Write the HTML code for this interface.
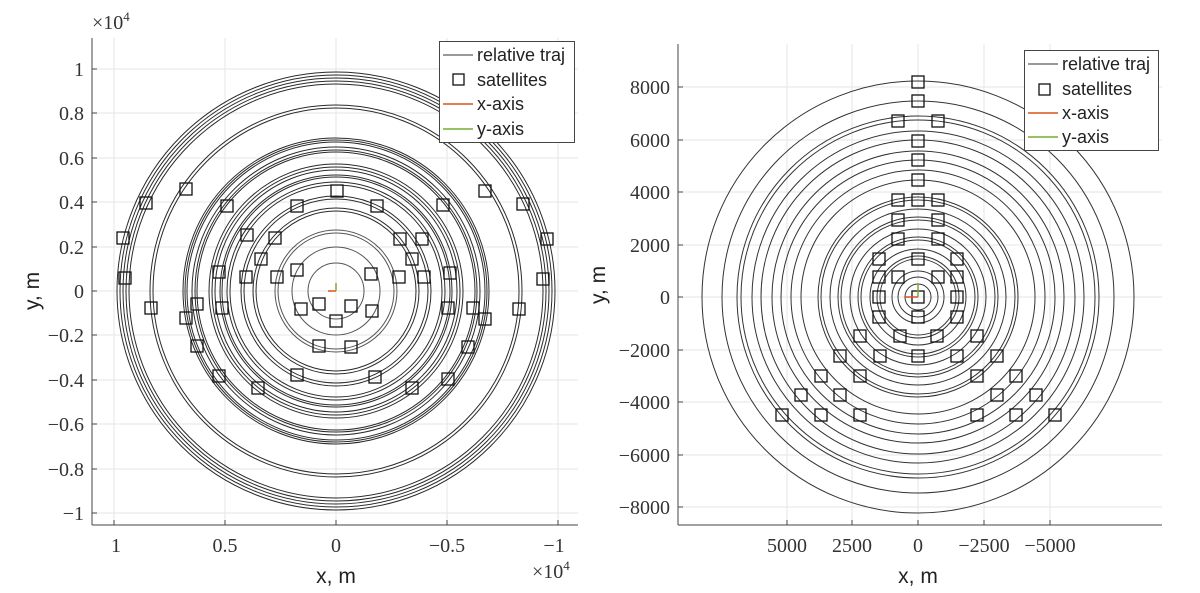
<!DOCTYPE html>
<html><head><meta charset="utf-8"><style>
body{margin:0;background:#fff}
svg{display:block}
.t{font-family:"Liberation Serif",serif;font-size:20px;fill:#333}
.s{font-family:"Liberation Sans",sans-serif;fill:#222}
</style></head><body>
<svg width="1200" height="593" viewBox="0 0 1200 593" xmlns="http://www.w3.org/2000/svg">
<rect width="1200" height="593" fill="#fff"/>
<!-- LEFT PLOT -->
<g stroke="#e6e6e6" stroke-width="1">
<line x1="92" y1="69" x2="578" y2="69"/><line x1="92" y1="113" x2="578" y2="113"/><line x1="92" y1="158" x2="578" y2="158"/><line x1="92" y1="202" x2="578" y2="202"/><line x1="92" y1="247" x2="578" y2="247"/><line x1="92" y1="291" x2="578" y2="291"/><line x1="92" y1="335" x2="578" y2="335"/><line x1="92" y1="380" x2="578" y2="380"/><line x1="92" y1="424" x2="578" y2="424"/><line x1="92" y1="469" x2="578" y2="469"/><line x1="92" y1="513" x2="578" y2="513"/>
<line x1="114" y1="38" x2="114" y2="525"/><line x1="225" y1="38" x2="225" y2="525"/><line x1="336" y1="38" x2="336" y2="525"/><line x1="447" y1="38" x2="447" y2="525"/><line x1="558" y1="38" x2="558" y2="525"/>
</g>
<g fill="none" stroke="#2a2a2a" stroke-width="1">
<circle cx="336" cy="291" r="219"/><circle cx="336" cy="291" r="216"/><circle cx="336" cy="291" r="213"/>
<circle cx="336" cy="291" r="210"/><circle cx="336" cy="291" r="207"/>
<circle cx="336" cy="291" r="186"/><circle cx="336" cy="291" r="183"/>
<circle cx="336" cy="291" r="153"/><circle cx="336" cy="291" r="151"/><circle cx="336" cy="291" r="149"/>
<circle cx="336" cy="291" r="144"/><circle cx="336" cy="291" r="141"/><circle cx="336" cy="291" r="139"/>
<circle cx="336" cy="291" r="127"/><circle cx="336" cy="291" r="124"/><circle cx="336" cy="291" r="121"/>
<circle cx="336" cy="291" r="116"/><circle cx="336" cy="291" r="114"/>
<circle cx="336" cy="291" r="109"/><circle cx="336" cy="291" r="106"/>
<circle cx="336" cy="291" r="95"/><circle cx="336" cy="291" r="92"/>
<circle cx="336" cy="291" r="83"/><circle cx="336" cy="291" r="80"/>
<circle cx="336" cy="291" r="61" stroke="#555"/><circle cx="336" cy="291" r="58" stroke="#555"/>
<circle cx="336" cy="291" r="44" stroke="#555"/><circle cx="336" cy="291" r="28" stroke="#555"/>
</g>
<g fill="none" stroke="#111" stroke-width="1.3">
<rect x="180" y="183" width="12" height="12"/><rect x="140" y="197" width="12" height="12"/><rect x="221" y="200" width="12" height="12"/><rect x="331" y="185" width="12" height="12"/><rect x="291" y="200" width="12" height="12"/><rect x="371" y="200" width="12" height="12"/><rect x="437" y="199" width="12" height="12"/><rect x="479" y="185" width="12" height="12"/><rect x="517" y="198" width="12" height="12"/><rect x="117" y="232" width="12" height="12"/><rect x="241" y="229" width="12" height="12"/><rect x="269" y="232" width="12" height="12"/><rect x="394" y="233" width="12" height="12"/><rect x="416" y="233" width="12" height="12"/><rect x="541" y="233" width="12" height="12"/><rect x="255" y="253" width="12" height="12"/><rect x="406" y="253" width="12" height="12"/><rect x="119" y="272" width="12" height="12"/><rect x="213" y="266" width="12" height="12"/><rect x="240" y="271" width="12" height="12"/><rect x="271" y="271" width="12" height="12"/><rect x="291" y="264" width="12" height="12"/><rect x="365" y="268" width="12" height="12"/><rect x="393" y="271" width="12" height="12"/><rect x="418" y="271" width="12" height="12"/><rect x="444" y="267" width="12" height="12"/><rect x="537" y="273" width="12" height="12"/><rect x="145" y="302" width="12" height="12"/><rect x="191" y="298" width="12" height="12"/><rect x="180" y="312" width="12" height="12"/><rect x="216" y="302" width="12" height="12"/><rect x="295" y="303" width="12" height="12"/><rect x="313" y="298" width="12" height="12"/><rect x="345" y="300" width="12" height="12"/><rect x="366" y="305" width="12" height="12"/><rect x="330" y="315" width="12" height="12"/><rect x="442" y="302" width="12" height="12"/><rect x="467" y="302" width="12" height="12"/><rect x="479" y="313" width="12" height="12"/><rect x="513" y="303" width="12" height="12"/><rect x="191" y="340" width="12" height="12"/><rect x="313" y="340" width="12" height="12"/><rect x="345" y="341" width="12" height="12"/><rect x="462" y="341" width="12" height="12"/><rect x="213" y="370" width="12" height="12"/><rect x="291" y="369" width="12" height="12"/><rect x="369" y="371" width="12" height="12"/><rect x="442" y="373" width="12" height="12"/><rect x="252" y="382" width="12" height="12"/><rect x="406" y="382" width="12" height="12"/>
</g>
<line x1="328" y1="291" x2="336" y2="291" stroke="#d95319" stroke-width="1.5"/>
<line x1="336" y1="291" x2="336" y2="283" stroke="#77ac30" stroke-width="1.5"/>
<g stroke="#444" stroke-width="1"><line x1="92" y1="38" x2="92" y2="525"/><line x1="92" y1="525" x2="578" y2="525"/>
<line x1="92" y1="69" x2="97" y2="69"/><line x1="92" y1="113" x2="97" y2="113"/><line x1="92" y1="158" x2="97" y2="158"/><line x1="92" y1="202" x2="97" y2="202"/><line x1="92" y1="247" x2="97" y2="247"/><line x1="92" y1="291" x2="97" y2="291"/><line x1="92" y1="335" x2="97" y2="335"/><line x1="92" y1="380" x2="97" y2="380"/><line x1="92" y1="424" x2="97" y2="424"/><line x1="92" y1="469" x2="97" y2="469"/><line x1="92" y1="513" x2="97" y2="513"/>
<line x1="114" y1="525" x2="114" y2="520"/><line x1="225" y1="525" x2="225" y2="520"/><line x1="336" y1="525" x2="336" y2="520"/><line x1="447" y1="525" x2="447" y2="520"/><line x1="558" y1="525" x2="558" y2="520"/></g>
<g class="t" text-anchor="end">
<text x="84" y="76">1</text><text x="84" y="120">0.8</text><text x="84" y="165">0.6</text><text x="84" y="209">0.4</text><text x="84" y="254">0.2</text><text x="84" y="298">0</text><text x="84" y="342">−0.2</text><text x="84" y="387">−0.4</text><text x="84" y="431">−0.6</text><text x="84" y="476">−0.8</text><text x="84" y="520">−1</text>
</g>
<g class="t" text-anchor="middle">
<text x="116" y="552">1</text><text x="225" y="552">0.5</text><text x="336" y="552">0</text><text x="447" y="552">−0.5</text><text x="554" y="552">−1</text>
</g>
<text class="t" x="92" y="29">×10<tspan dy="-8" font-size="13">4</tspan></text>
<text class="t" x="532" y="578">×10<tspan dy="-8" font-size="13">4</tspan></text>
<text class="s" x="336" y="583" font-size="21" text-anchor="middle">x, m</text>
<text class="s" transform="translate(39,291) rotate(-90)" font-size="21" text-anchor="middle">y, m</text>
<g>
<rect x="439.5" y="41.5" width="135" height="101" fill="#fff" stroke="#444"/>
<line x1="443" y1="55" x2="473" y2="55" stroke="#333"/>
<rect x="453" y="74" width="11" height="11" fill="none" stroke="#111" stroke-width="1.3"/>
<line x1="443" y1="104" x2="473" y2="104" stroke="#d95319" stroke-width="1.5"/>
<line x1="443" y1="129" x2="473" y2="129" stroke="#77ac30" stroke-width="1.5"/>
<g class="s" font-size="18"><text x="477" y="61">relative traj</text><text x="477" y="86">satellites</text><text x="477" y="110">x-axis</text><text x="477" y="135">y-axis</text></g>
</g>

<!-- RIGHT PLOT -->
<g stroke="#e6e6e6" stroke-width="1">
<line x1="678" y1="87" x2="1162" y2="87"/><line x1="678" y1="140" x2="1162" y2="140"/><line x1="678" y1="192" x2="1162" y2="192"/><line x1="678" y1="245" x2="1162" y2="245"/><line x1="678" y1="297" x2="1162" y2="297"/><line x1="678" y1="350" x2="1162" y2="350"/><line x1="678" y1="402" x2="1162" y2="402"/><line x1="678" y1="455" x2="1162" y2="455"/><line x1="678" y1="507" x2="1162" y2="507"/>
<line x1="787" y1="44" x2="787" y2="525"/><line x1="852" y1="44" x2="852" y2="525"/><line x1="918" y1="44" x2="918" y2="525"/><line x1="984" y1="44" x2="984" y2="525"/><line x1="1050" y1="44" x2="1050" y2="525"/>
</g>
<g fill="none" stroke="#333" stroke-width="1">
<circle cx="918" cy="297" r="216"/><circle cx="918" cy="297" r="196"/><circle cx="918" cy="297" r="181"/><circle cx="918" cy="297" r="177"/><circle cx="918" cy="297" r="157"/><circle cx="918" cy="297" r="137"/><circle cx="918" cy="297" r="117"/><circle cx="918" cy="297" r="100"/><circle cx="918" cy="297" r="97"/><circle cx="918" cy="297" r="80"/><circle cx="918" cy="297" r="77"/><circle cx="918" cy="297" r="60"/><circle cx="918" cy="297" r="57"/><circle cx="918" cy="297" r="41"/><circle cx="918" cy="297" r="38"/><circle cx="918" cy="297" r="26"/><circle cx="918" cy="297" r="20"/><circle cx="918" cy="297" r="13"/>
<circle cx="918" cy="297" r="166"/><circle cx="918" cy="297" r="146"/><circle cx="918" cy="297" r="127"/><circle cx="918" cy="297" r="88"/><circle cx="918" cy="297" r="68"/><circle cx="918" cy="297" r="48"/>
</g>
<g fill="none" stroke="#111" stroke-width="1.3" transform="translate(-2,0)">
<rect x="914" y="76" width="12" height="12"/><rect x="914" y="95" width="12" height="12"/>
<rect x="894" y="115" width="12" height="12"/><rect x="934" y="115" width="12" height="12"/>
<rect x="914" y="135" width="12" height="12"/><rect x="914" y="154" width="12" height="12"/><rect x="914" y="174" width="12" height="12"/>
<rect x="894" y="194" width="12" height="12"/><rect x="914" y="194" width="12" height="12"/><rect x="934" y="194" width="12" height="12"/>
<rect x="894" y="214" width="12" height="12"/><rect x="934" y="214" width="12" height="12"/>
<rect x="894" y="233" width="12" height="12"/><rect x="934" y="233" width="12" height="12"/>
<rect x="875" y="253" width="12" height="12"/><rect x="914" y="253" width="12" height="12"/><rect x="953" y="253" width="12" height="12"/>
<rect x="875" y="271" width="12" height="12"/><rect x="894" y="271" width="12" height="12"/><rect x="934" y="271" width="12" height="12"/><rect x="953" y="271" width="12" height="12"/>
<rect x="875" y="291" width="12" height="12"/><rect x="914" y="291" width="12" height="12"/><rect x="953" y="291" width="12" height="12"/>
<rect x="875" y="311" width="12" height="12"/><rect x="914" y="311" width="12" height="12"/><rect x="953" y="311" width="12" height="12"/>
<rect x="856" y="330" width="12" height="12"/><rect x="896" y="330" width="12" height="12"/><rect x="933" y="330" width="12" height="12"/><rect x="973" y="330" width="12" height="12"/>
<rect x="836" y="350" width="12" height="12"/><rect x="876" y="350" width="12" height="12"/><rect x="914" y="350" width="12" height="12"/><rect x="953" y="350" width="12" height="12"/><rect x="993" y="350" width="12" height="12"/>
<rect x="817" y="370" width="12" height="12"/><rect x="856" y="370" width="12" height="12"/><rect x="973" y="370" width="12" height="12"/><rect x="1012" y="370" width="12" height="12"/>
<rect x="797" y="389" width="12" height="12"/><rect x="836" y="389" width="12" height="12"/><rect x="993" y="389" width="12" height="12"/><rect x="1032" y="389" width="12" height="12"/>
<rect x="778" y="409" width="12" height="12"/><rect x="817" y="409" width="12" height="12"/><rect x="856" y="409" width="12" height="12"/><rect x="973" y="409" width="12" height="12"/><rect x="1012" y="409" width="12" height="12"/><rect x="1051" y="409" width="12" height="12"/>
</g>
<line x1="905" y1="297" x2="918" y2="297" stroke="#d95319" stroke-width="1.5"/>
<line x1="918" y1="297" x2="918" y2="284" stroke="#77ac30" stroke-width="1.5"/>
<g stroke="#444" stroke-width="1"><line x1="678" y1="44" x2="678" y2="525"/><line x1="678" y1="525" x2="1162" y2="525"/>
<line x1="678" y1="87" x2="683" y2="87"/><line x1="678" y1="140" x2="683" y2="140"/><line x1="678" y1="192" x2="683" y2="192"/><line x1="678" y1="245" x2="683" y2="245"/><line x1="678" y1="297" x2="683" y2="297"/><line x1="678" y1="350" x2="683" y2="350"/><line x1="678" y1="402" x2="683" y2="402"/><line x1="678" y1="455" x2="683" y2="455"/><line x1="678" y1="507" x2="683" y2="507"/>
<line x1="787" y1="525" x2="787" y2="520"/><line x1="852" y1="525" x2="852" y2="520"/><line x1="918" y1="525" x2="918" y2="520"/><line x1="984" y1="525" x2="984" y2="520"/><line x1="1050" y1="525" x2="1050" y2="520"/></g>
<g class="t" text-anchor="end">
<text x="670" y="94">8000</text><text x="670" y="147">6000</text><text x="670" y="199">4000</text><text x="670" y="252">2000</text><text x="670" y="304">0</text><text x="670" y="357">−2000</text><text x="670" y="409">−4000</text><text x="670" y="462">−6000</text><text x="670" y="514">−8000</text>
</g>
<g class="t" text-anchor="middle">
<text x="787" y="552">5000</text><text x="852" y="552">2500</text><text x="918" y="552">0</text><text x="984" y="552">−2500</text><text x="1050" y="552">−5000</text>
</g>
<text class="s" x="918" y="583" font-size="21" text-anchor="middle">x, m</text>
<text class="s" transform="translate(605,285) rotate(-90)" font-size="21" text-anchor="middle">y, m</text>
<g>
<rect x="1024.5" y="50.5" width="134" height="100" fill="#fff" stroke="#444"/>
<line x1="1028" y1="64" x2="1058" y2="64" stroke="#333"/>
<rect x="1039" y="84" width="11" height="11" fill="none" stroke="#111" stroke-width="1.3"/>
<line x1="1028" y1="113" x2="1058" y2="113" stroke="#d95319" stroke-width="1.5"/>
<line x1="1028" y1="137" x2="1058" y2="137" stroke="#77ac30" stroke-width="1.5"/>
<g class="s" font-size="18"><text x="1062" y="70">relative traj</text><text x="1062" y="95">satellites</text><text x="1062" y="119">x-axis</text><text x="1062" y="143">y-axis</text></g>
</g>
</svg>
</body></html>
